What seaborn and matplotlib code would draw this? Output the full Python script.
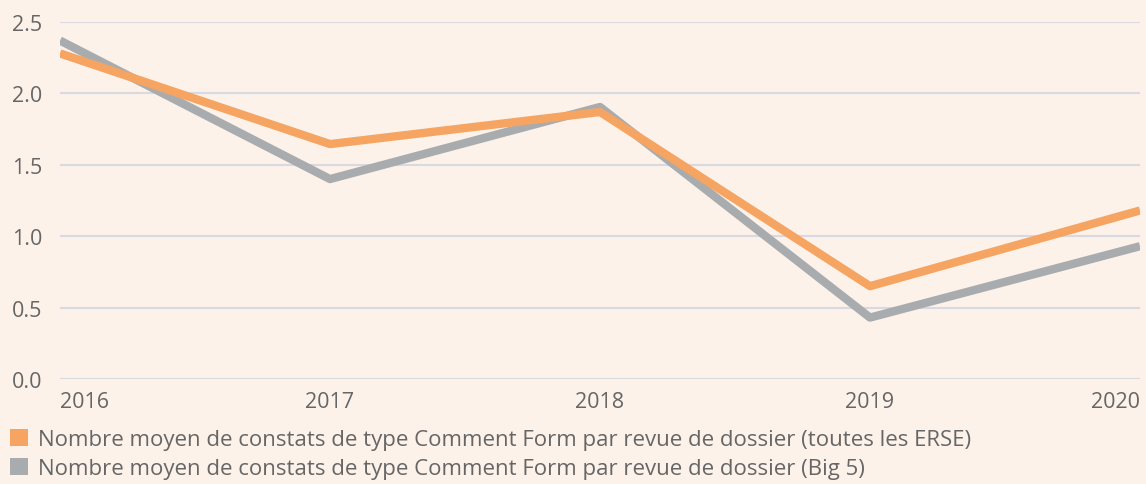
import seaborn as sns
import matplotlib.pyplot as plt
import pandas as pd
from matplotlib.patches import Patch

# data
years = [2016, 2017, 2018, 2019, 2020]
toutes_erse = [2.28, 1.645, 1.87, 0.65, 1.18]
big5 = [2.37, 1.40, 1.905, 0.43, 0.93]
labels = [
    "Nombre moyen de constats de type Comment Form par revue de dossier (toutes les ERSE)",
    "Nombre moyen de constats de type Comment Form par revue de dossier (Big 5)",
]
colors = ["#F6A462", "#A9ACAF"]

df = pd.DataFrame({
    "year": years * 2,
    "value": toutes_erse + big5,
    "serie": [labels[0]] * len(years) + [labels[1]] * len(years),
})

bg = "#FDF2EA"
txt = "#666666"
sns.set_theme(style="white")
plt.rcParams["font.family"] = ["Open Sans", "DejaVu Sans"]

fig = plt.figure(figsize=(11.46, 4.85), dpi=100, facecolor=bg)
ax = fig.add_axes([60 / 1146, 1 - 380 / 485, 1080 / 1146, 357 / 485])
ax.set_facecolor(bg)

# draw gray first so orange sits on top
sns.lineplot(data=df, x="year", y="value", hue="serie", hue_order=[labels[1], labels[0]],
             palette=[colors[1], colors[0]], linewidth=6, legend=False, ax=ax,
             solid_capstyle="butt")

ax.set_xlim(2016, 2020)
ax.set_ylim(0, 2.5)
ax.set_yticks([0, 0.5, 1.0, 1.5, 2.0, 2.5])
ax.set_yticklabels(["0.0", "0.5", "1.0", "1.5", "2.0", "2.5"])
ax.set_xticks(years)
ax.set_xticklabels([str(y) for y in years])
for i, t in enumerate(ax.get_xticklabels()):
    if i == 0:
        t.set_ha("left")
    elif i == len(years) - 1:
        t.set_ha("right")
ax.yaxis.grid(True, color="#D8DAE2", linewidth=1.5)
ax.set_axisbelow(True)
ax.tick_params(axis="both", length=0, labelsize=15.5, labelcolor=txt)
ax.tick_params(axis="y", pad=13)
ax.tick_params(axis="x", pad=9)
ax.set_xlabel("")
ax.set_ylabel("")
sns.despine(ax=ax, left=True, bottom=True)

handles = [Patch(facecolor=c, edgecolor="none") for c in colors]
leg = fig.legend(handles, labels, loc="upper left", bbox_to_anchor=(0.009, 0.113),
                 frameon=False, fontsize=16, handlelength=0.8, handleheight=0.8,
                 handletextpad=0.45, labelspacing=0.33, borderaxespad=0, borderpad=0)
for t in leg.get_texts():
    t.set_color(txt)

fig.savefig("out.png", dpi=100, facecolor=bg)
